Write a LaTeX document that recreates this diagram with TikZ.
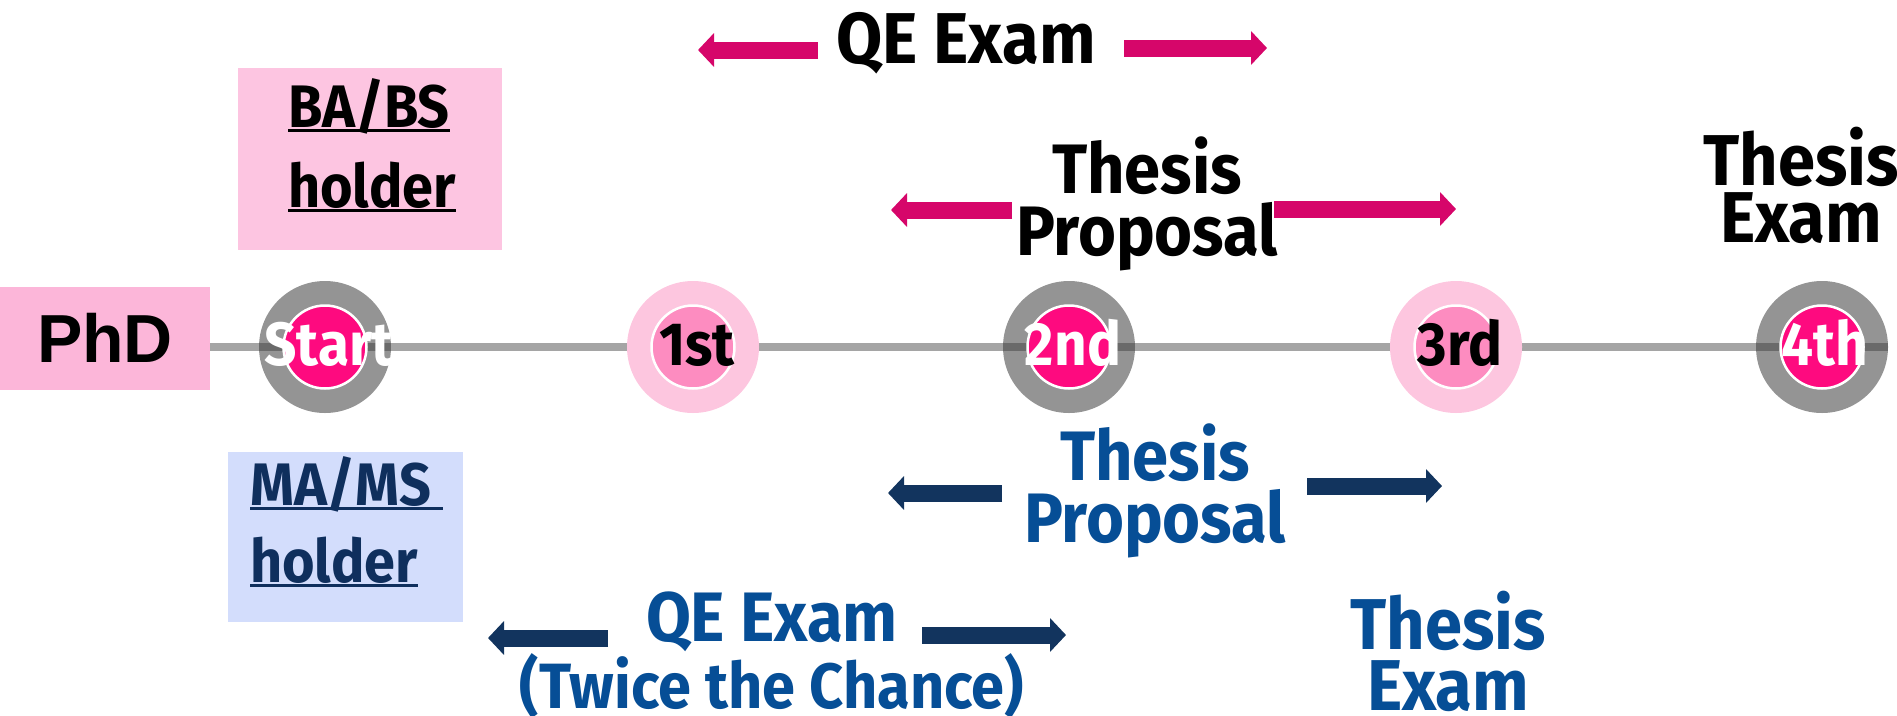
\documentclass[tikz,border=0pt]{standalone}
\usepackage{fontspec}
\setmainfont{Fira Sans}[FakeStretch=0.93]
\newfontfamily\phdfont{Liberation Sans}
\usepackage{tikz}
\usetikzlibrary{arrows.meta,positioning,backgrounds}

\definecolor{lineGray}{HTML}{A5A5A5}
\definecolor{bandGray}{HTML}{6A6A6A}
\definecolor{ringGray}{HTML}{949494}
\definecolor{ringPink}{HTML}{FDC6DF}
\definecolor{coreHot}{HTML}{FE0A7F}
\definecolor{coreSoft}{HTML}{FD8CC0}
\definecolor{phdPink}{HTML}{FCB6D9}
\definecolor{baPink}{HTML}{FDC5E1}
\definecolor{maBlue}{HTML}{D3DDFC}
\definecolor{maNavy}{HTML}{0F2F5D}
\definecolor{arrowMag}{HTML}{D6066A}
\definecolor{arrowNavy}{HTML}{12345E}
\definecolor{textBlue}{HTML}{064E96}

\newcommand{\undl}[1]{\setbox0\hbox{#1}\rlap{\rule[-5pt]{\wd0}{3.5pt}}\box0}

\begin{document}
\begin{tikzpicture}[x=1pt, y=-1pt, font=\bfseries]
          \tikzstyle{ring} = [circle, inner sep=0pt, minimum size=132pt]
          \tikzstyle{grayring} = [ring, fill=ringGray]
          \tikzstyle{pinkring} = [ring, fill=ringPink]
          \tikzstyle{core} = [circle, inner sep=0pt, minimum size=83pt, draw=white, line width=2.5pt]
          \tikzstyle{hotcore} = [core, fill=coreHot]
          \tikzstyle{softcore} = [core, fill=coreSoft]
          \tikzstyle{band} = [draw=bandGray, line width=8pt]
          \tikzstyle{yearlabel} = [anchor=base, inner sep=0pt, font=\bfseries\fontsize{61}{61}\selectfont]
          \tikzstyle{holder} = [anchor=base west, inner sep=0pt, font=\bfseries\fontsize{60}{60}\selectfont]
          \tikzstyle{headline} = [anchor=base, align=center, inner sep=0pt, font=\bfseries\fontsize{72}{61}\selectfont]
          \tikzstyle{magarrow} = [draw=arrowMag, line width=17pt, -{Triangle[length=16pt,width=33pt]}]
          \tikzstyle{navyarrow} = [draw=arrowNavy, line width=17pt, -{Triangle[length=16pt,width=33pt]}]

          \useasboundingbox (0,0) rectangle (1897,715);

          % degree boxes
          \node[fill=phdPink, minimum width=210pt, minimum height=103pt, inner sep=0pt,
                font=\phdfont\bfseries\fontsize{68}{68}\selectfont] (phd) at (105,338) {PhD};
          \node[fill=baPink, minimum width=264pt, minimum height=182pt] (babox) at (370,159) {};
          \node[holder] (ba1) at (288,127) {\undl{BA/BS}};
          \node[holder] (ba2) at (288,207) {\undl{holder}};
          \node[fill=maBlue, minimum width=235pt, minimum height=170pt] (mabox) at (345.5,537) {};
          \node[holder, text=maNavy] (ma1) at (250,505) {\undl{MA/MS\hspace{12pt}}};
          \node[holder, text=maNavy] (ma2) at (250,582) {\undl{holder}};

          % years on the timeline
          \node[grayring] (s0) at (325,347) {};
          \node[pinkring] (s1) at (693,347) {};
          \node[grayring] (s2) at (1069,347) {};
          \node[pinkring] (s3) at (1456,347) {};
          \node[grayring] (s4) at (1822,347) {};
          \begin{scope}[on background layer]
            \draw[lineGray, line width=8pt] (phd.east |- s0.center) -- (s4.center);
          \end{scope}
          \foreach \s in {s0,s2,s4}
            \draw[band] (\s.west) -- (\s.east);
          \node[hotcore] (c0) at (s0) {};
          \node[softcore] (c1) at (s1) {};
          \node[hotcore] (c2) at (s2) {};
          \node[softcore] (c3) at (s3) {};
          \node[hotcore] (c4) at (s4) {};
          \node[yearlabel, text=white] (l0) at (329,365) {Start};
          \node[yearlabel] (l1) at (697,365) {1st};
          \node[yearlabel, text=white] (l2) at (1073,365) {2nd};
          \node[yearlabel] (l3) at (1460,365) {3rd};
          \node[yearlabel, text=white] (l4) at (1825,365) {4th};

          % BA/BS track
          \node[headline] (qetop) at (966,63) {QE Exam};
          \node[headline, font=\bfseries\fontsize{70}{62}\selectfont] (tptop) at (1147,255) {Thesis\\Proposal};
          \node[headline] (tetop) at (1801,242) {Thesis\\[-4pt]Exam};
          \coordinate (qetopL) at (698,50);
          \coordinate (qetopR) at (1267,48);
          \coordinate (tptopL) at (891,210);
          \coordinate (tptopR) at (1456,209);
          \draw[magarrow] (1012,210) -- (tptopL);
          \draw[magarrow] (1274,209) -- (tptopR);
          \draw[magarrow] (818,50) -- (qetopL);
          \draw[magarrow] (1124,48) -- (qetopR);

          % MA/MS track
          \node[headline, text=textBlue, font=\bfseries\fontsize{70}{60}\selectfont] (qebot) at (772,708)
            {QE Exam\\{\fontsize{64}{60}\selectfont(Twice the Chance)}};
          \node[headline, text=textBlue, font=\bfseries\fontsize{70}{62}\selectfont] (tpbot) at (1155,542) {Thesis\\Proposal};
          \node[headline, text=textBlue] (tebot) at (1448,710) {Thesis\\Exam};
          \coordinate (qebotL) at (488,638);
          \coordinate (qebotR) at (1066,635);
          \coordinate (tpbotL) at (888,493);
          \coordinate (tpbotR) at (1442,486);
          \draw[navyarrow] (608,638) -- (qebotL);
          \draw[navyarrow] (922,635) -- (qebotR);
          \draw[navyarrow] (1002,493) -- (tpbotL);
          \draw[navyarrow] (1307,486) -- (tpbotR);
        \end{tikzpicture}
\end{document}
